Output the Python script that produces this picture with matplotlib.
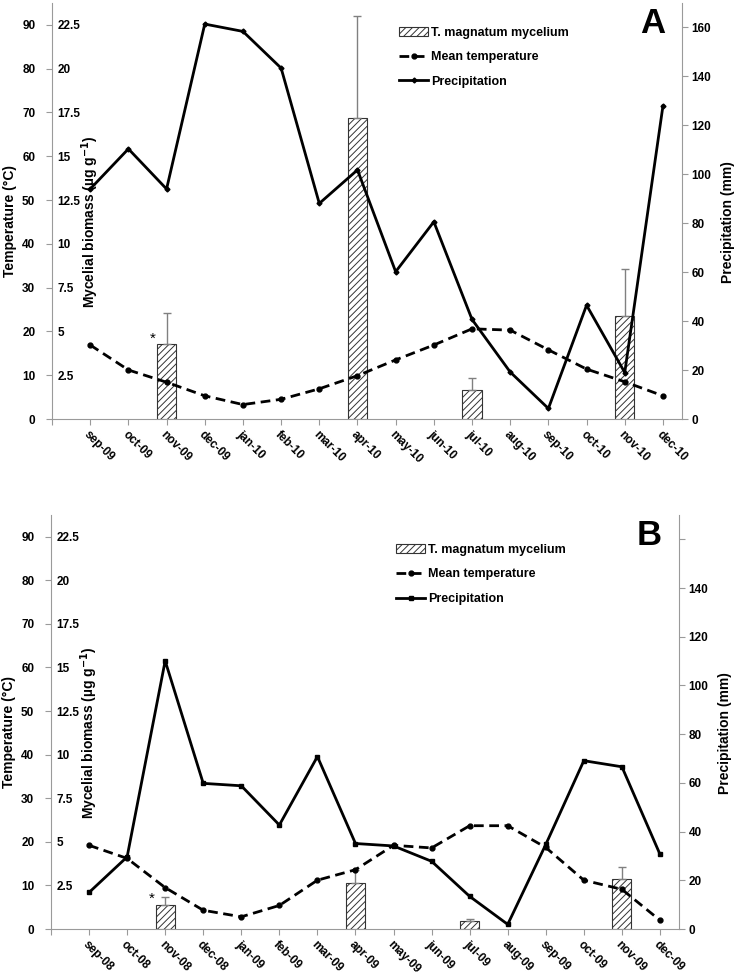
import numpy as np
import matplotlib.pyplot as plt

plt.rcParams['font.family'] = ['Liberation Sans', 'DejaVu Sans']
plt.rcParams['font.weight'] = 'bold'
plt.rcParams['axes.labelweight'] = 'bold'
plt.rcParams['hatch.linewidth'] = 0.7

# panel A data (sep-09 .. dec-10)
months_a = ['sep-09', 'oct-09', 'nov-09', 'dec-09', 'jan-10', 'feb-10', 'mar-10', 'apr-10',
            'may-10', 'jun-10', 'jul-10', 'aug-10', 'sep-10', 'oct-10', 'nov-10', 'dec-10']
temp_a = [16.9, 11.2, 8.4, 5.3, 3.3, 4.5, 6.9, 9.9, 13.5, 16.9, 20.6, 20.3, 15.8, 11.4, 8.5, 5.3]
prec_a = [94.0, 110.4, 94.0, 161.4, 158.4, 143.4, 88.1, 101.8, 60.2, 80.6, 40.7, 19.2, 4.3, 46.5, 19.0, 127.9]
bio_months_a = ['nov-09', 'apr-10', 'jul-10', 'nov-10']
bio_a = [4.28, 17.2, 1.66, 5.88]
bio_err_a = [1.77, 5.8, 0.68, 2.68]

# panel B data (sep-08 .. dec-09)
months_b = ['sep-08', 'oct-08', 'nov-08', 'dec-08', 'jan-09', 'feb-09', 'mar-09', 'apr-09',
            'may-09', 'jun-09', 'jul-09', 'aug-09', 'sep-09', 'oct-09', 'nov-09', 'dec-09']
temp_b = [19.2, 16.2, 9.5, 4.3, 2.8, 5.4, 11.2, 13.6, 19.2, 18.6, 23.7, 23.7, 18.7, 11.2, 9.1, 2.0]
prec_b = [15.0, 29.6, 110.1, 59.8, 58.8, 42.7, 70.8, 35.1, 34.1, 27.8, 13.4, 1.9, 34.7, 69.1, 66.6, 30.7]
bio_months_b = ['nov-08', 'apr-09', 'jul-09', 'nov-09']
bio_b = [1.40, 2.66, 0.44, 2.85]
bio_err_b = [0.44, 0.75, 0.12, 0.71]

temp_ticks = list(range(0, 100, 10))
bio_ticks = [2.5, 5, 7.5, 10, 12.5, 15, 17.5, 20, 22.5]
prec_ticks = list(range(0, 180, 20))

GRAY = '#9a9a9a'
TS = 8.5


def panel(fig, rect, months, temp, prec, bio_months, bio, bio_err, letter,
          leg_xy, prec_marker, prec_ms, hide_top_prec):
    x = np.arange(len(months))
    bx = [months.index(m) for m in bio_months]

    ax_bio = fig.add_axes(rect)
    bars = ax_bio.bar(bx, bio, width=0.5, color='white', edgecolor='#333333',
                      linewidth=0.8, hatch='/////')
    ax_bio.errorbar(bx, bio, yerr=[np.zeros(len(bio)), bio_err], fmt='none',
                    ecolor='#808080', elinewidth=1, capsize=3, capthick=1)
    ax_bio.annotate('*', xy=(bx[0], bio[0]), xytext=(-10, 1), textcoords='offset points',
                    ha='center', va='baseline', fontsize=11, fontweight='normal')
    ax_bio.set_xlim(-1, len(months) - 0.5)
    ax_bio.set_ylim(0, 23.75)
    ax_bio.set_yticks(bio_ticks)
    ax_bio.set_yticklabels(['%g' % t for t in bio_ticks])
    ax_bio.tick_params(axis='y', length=0, pad=-4, labelsize=TS)
    for lbl in ax_bio.get_yticklabels():
        lbl.set_horizontalalignment('left')
    ax_bio.set_ylabel('Mycelial biomass (µg g$^{-1}$)', fontsize=10)
    ax_bio.yaxis.set_label_coords(0.078, 0.474)

    ax_bio.set_xticks(range(-1, len(months)))
    ax_bio.set_xticklabels([''] + months)
    ax_bio.tick_params(axis='x', color=GRAY, length=4, pad=3, labelsize=TS)
    for lbl in ax_bio.get_xticklabels():
        lbl.set_rotation(-45)
        lbl.set_horizontalalignment('left')
        lbl.set_verticalalignment('top')
        lbl.set_rotation_mode('anchor')
    for s in ['left', 'right', 'top']:
        ax_bio.spines[s].set_visible(False)
    ax_bio.spines['bottom'].set_color(GRAY)

    # temperature on left axis
    ax_t = ax_bio.twinx()
    ax_t.yaxis.tick_left()
    ax_t.yaxis.set_label_position('left')
    lt, = ax_t.plot(x, temp, color='black', lw=2, ls=(0, (3.5, 2)), marker='o', ms=3.5)
    ax_t.set_ylim(0, 95)
    ax_t.set_yticks(temp_ticks)
    ax_t.tick_params(axis='y', color=GRAY, labelcolor='black', length=4, pad=8, labelsize=TS)
    for s in ['right', 'top', 'bottom']:
        ax_t.spines[s].set_visible(False)
    ax_t.spines['left'].set_color(GRAY)
    ax_t.set_ylabel('Temperature (°C)', fontsize=10)
    ax_t.yaxis.set_label_coords(-0.055, 0.477)

    # precipitation on right axis
    ax_p = ax_bio.twinx()
    lp, = ax_p.plot(x, prec, color='black', lw=2, marker=prec_marker, ms=prec_ms)
    ax_p.set_ylim(0, 170)
    ax_p.set_yticks(prec_ticks)
    labs = [str(t) for t in prec_ticks]
    if hide_top_prec:
        labs[-1] = ''
    ax_p.set_yticklabels(labs)
    ax_p.tick_params(axis='y', color=GRAY, labelcolor='black', length=4, pad=3, labelsize=TS)
    for s in ['left', 'top', 'bottom']:
        ax_p.spines[s].set_visible(False)
    ax_p.spines['right'].set_color(GRAY)
    ax_p.set_ylabel('Precipitation (mm)', fontsize=10)
    ax_p.yaxis.set_label_coords(1.062, 0.474)

    ax_p.legend([bars, lt, lp], ['T. magnatum mycelium', 'Mean temperature', 'Precipitation'],
                loc='upper left', bbox_to_anchor=leg_xy, frameon=False, fontsize=9,
                handlelength=2.3, handletextpad=0.25, labelspacing=1.0,
                borderaxespad=0, borderpad=0)
    ax_p.text(0.973, 0.99, letter, transform=ax_p.transAxes, fontsize=25,
              ha='right', va='top')


fig = plt.figure(figsize=(7.39, 9.74), dpi=100)
panel(fig, [0.0704, 0.5698, 0.8525, 0.4271], months_a, temp_a, prec_a,
      bio_months_a, bio_a, bio_err_a, 'A', (0.551, 0.943), 'D', 2.5, False)
panel(fig, [0.069, 0.0462, 0.8498, 0.4251], months_b, temp_b, prec_b,
      bio_months_b, bio_b, bio_err_b, 'B', (0.55, 0.93), 's', 3.5, True)
fig.savefig('out.png', dpi=100)
